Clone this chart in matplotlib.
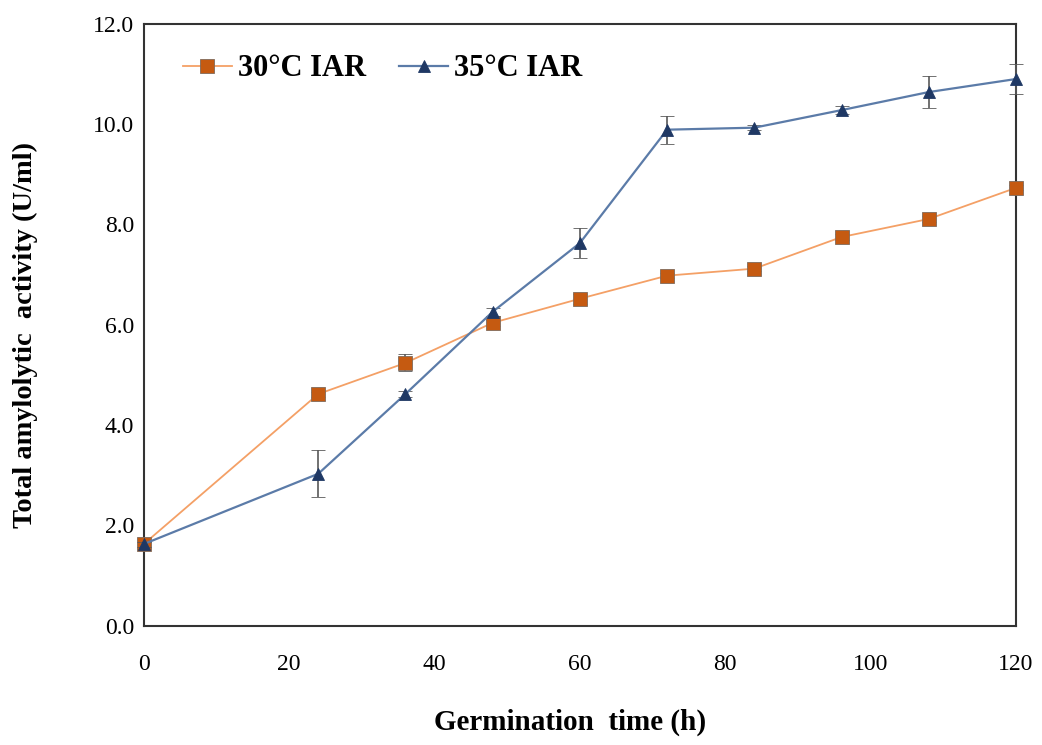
import matplotlib
matplotlib.use("Agg")
import matplotlib.pyplot as plt

# germination time (h)
hours = [0, 24, 36, 48, 60, 72, 84, 96, 108, 120]

# total amylolytic activity (U/ml)
iar_30 = [1.63, 4.62, 5.24, 6.04, 6.52, 6.98, 7.12, 7.75, 8.11, 8.73]
err_30 = [0.05, 0.05, 0.17, 0.06, 0.10, 0.05, 0.05, 0.06, 0.06, 0.05]
iar_35 = [1.63, 3.03, 4.62, 6.26, 7.63, 9.89, 9.93, 10.28, 10.64, 10.90]
err_35 = [0.05, 0.47, 0.06, 0.08, 0.30, 0.28, 0.05, 0.08, 0.32, 0.30]

x_ticks = [0, 20, 40, 60, 80, 100, 120]
y_ticks = [0, 2, 4, 6, 8, 10, 12]

plt.rcParams['font.family'] = ['Liberation Serif', 'DejaVu Serif']

fig = plt.figure(figsize=(10.42, 7.45), dpi=100)
ax = fig.add_axes([0.138, 0.160, 0.837, 0.808])

ax.errorbar(hours, iar_30, yerr=err_30, color='#F4A066', lw=1.3,
            marker='s', markersize=10, markerfacecolor='#C55A11',
            markeredgecolor='#7f6a5a', markeredgewidth=0.6,
            ecolor='#595959', elinewidth=1.2, capsize=5, capthick=1.2,
            label='30\u00b0C IAR', zorder=3, clip_on=False)
ax.errorbar(hours, iar_35, yerr=err_35, color='#5B7BA8', lw=1.6,
            marker='^', markersize=9, markerfacecolor='#1F3864',
            markeredgecolor='#1F3864', markeredgewidth=0.6,
            ecolor='#595959', elinewidth=1.2, capsize=5, capthick=1.2,
            label='35\u00b0C IAR', zorder=4, clip_on=False)

ax.set_xlim(0, 120)
ax.set_ylim(0, 12)
ax.set_xticks(x_ticks)
ax.set_xticklabels([str(t) for t in x_ticks])
ax.set_yticks(y_ticks)
ax.set_yticklabels(['%.1f' % t for t in y_ticks])
ax.tick_params(axis='both', length=0, labelsize=17, colors='#000000')
ax.tick_params(axis='x', pad=20)
ax.tick_params(axis='y', pad=7)
for side in ax.spines.values():
    side.set_color('#333333')
    side.set_linewidth(1.5)

ax.set_xlabel('Germination  time (h)', fontsize=21, fontweight='bold')
ax.xaxis.set_label_coords(0.4885, -0.138)
ax.set_ylabel('Total amylolytic  activity (U/ml)', fontsize=20.5, fontweight='bold')
ax.yaxis.set_label_coords(-0.1215, 0.483)

# error bar containers get their own legend handles; show only line+marker
handles, labels = ax.get_legend_handles_labels()
handles = [h[0] for h in handles]
ax.legend(handles, labels, loc='upper left', bbox_to_anchor=(0.013, 0.995),
          ncol=2, frameon=False, prop={'weight': 'bold', 'size': 22},
          handlelength=1.6, handletextpad=0.2, columnspacing=1.1)

plt.savefig('out.png', dpi=100)
